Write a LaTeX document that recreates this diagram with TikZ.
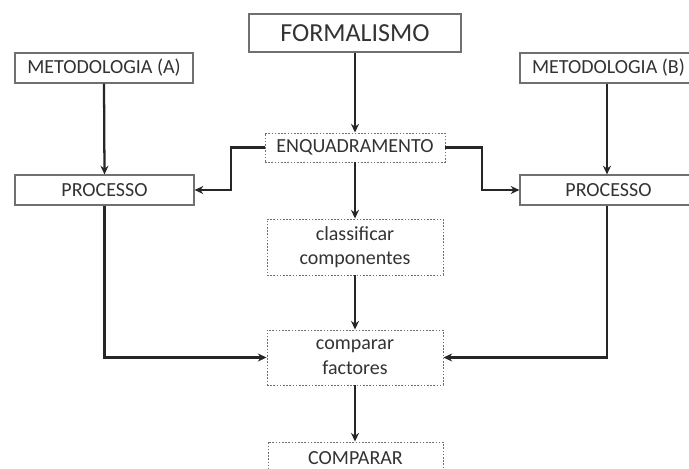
\documentclass[tikz,border=0pt]{standalone}
\usepackage{fontspec}
\setmainfont{Carlito}
\usetikzlibrary{arrows.meta}
\definecolor{txt}{HTML}{333333}
\definecolor{edge}{HTML}{707070}
\begin{document}
\begin{tikzpicture}[x=0.75pt,y=-0.75pt,
  solidbox/.style={draw=edge,line width=0.9pt,fill=white,inner sep=0pt,text=txt,font=\fontsize{15}{18.5}\selectfont,align=center},
  dotbox/.style={draw=edge,line width=0.7pt,dash pattern=on 1.2pt off 1.2pt,fill=white,inner sep=0pt,text=txt,font=\fontsize{15}{18.5}\selectfont,align=center},
  conn/.style={draw=black!85,line width=1.7pt,-{Stealth[length=6.5pt,width=6pt]}}]
\useasboundingbox (0,0) rectangle (689,468);
\begin{scope}
\clip (0,0) rectangle (689,468);
\node[solidbox,minimum width=159pt,minimum height=28.5pt,font=\fontsize{19.5}{23}\selectfont] (form) at (355,33) {FORMALISMO};
\node[solidbox,minimum width=133.5pt,minimum height=22.5pt] (ma) at (104,68) {METODOLOGIA (A)};
\node[solidbox,minimum width=134.25pt,minimum height=22.5pt] (pa) at (104.5,190) {PROCESSO};
\node[solidbox,minimum width=132.75pt,minimum height=22.5pt] (mb) at (608.5,68) {METODOLOGIA (B)};
\node[solidbox,minimum width=132.75pt,minimum height=22.5pt] (pb) at (608.5,190) {PROCESSO};
\node[dotbox,minimum width=135pt,minimum height=21.75pt] (enq) at (355,147.5) {ENQUADRAMENTO};
\node[dotbox,minimum width=132pt,minimum height=42pt] (cls) at (355,247) {classificar\\componentes};
\node[dotbox,minimum width=132pt,minimum height=41.25pt] (cmp) at (355,357.5) {comparar\\factores};
\node[dotbox,minimum width=131.25pt,minimum height=30pt] (fin) at (355.5,462) {};
\node[text=txt,font=\fontsize{15}{18.5}\selectfont] (fint) at (355.5,458) {COMPARAR};
\draw[conn] (form.south) -- (enq.north);
\draw[conn] (ma.south) -- (pa.north);
\draw[conn] (mb.south -| 607,0) -- (pb.north -| 607,0);
\draw[conn] (enq.west) -| (231,170) |- (pa.east);
\draw[conn] (enq.east) -| (482,170) |- (pb.west);
\draw[conn] (enq.south) -- (cls.north);
\draw[conn] (cls.south) -- (cmp.north);
\draw[conn] (cmp.south) -- (fin.north -| cmp.south);
\draw[conn] (pa.south) |- (cmp.west);
\draw[conn] (pb.south -| 607,0) |- (cmp.east);
\end{scope}
\end{tikzpicture}
\end{document}
